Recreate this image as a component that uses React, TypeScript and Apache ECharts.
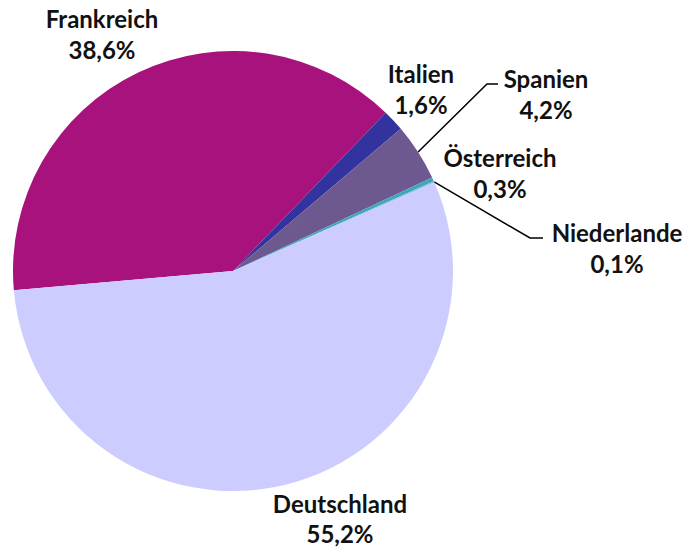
import React, { useEffect, useRef } from "react";
import * as echarts from "echarts";

const countries = ["Frankreich", "Italien", "Spanien", "Österreich", "Niederlande", "Deutschland"];
const shares = [38.6, 1.6, 4.2, 0.3, 0.1, 55.2];
const colors = ["#A8127C", "#3333A0", "#6E5890", "#40A6B8", "#88BDE8", "#CCCCFF"];

// label layout: block centre and optional leader-line bend/end points
const labelPos: Record<string, { x: number; y: number; line?: number[][] }> = {
  Frankreich: { x: 102, y: 34 },
  Italien: { x: 421, y: 89 },
  Spanien: { x: 546, y: 94, line: [[487, 84], [498, 84]] },
  "Österreich": { x: 500, y: 173 },
  Niederlande: { x: 617, y: 248, line: [[530, 238], [543, 238]] },
  Deutschland: { x: 340, y: 518 },
};

export default function App() {
  const ref = useRef<HTMLDivElement>(null);
  useEffect(() => {
    if (!ref.current) return;
    const chart = echarts.init(ref.current, null, { renderer: "svg" });
    const data = countries.map((name, i) => {
      const hasLine = !!labelPos[name].line;
      return {
        name,
        value: shares[i],
        itemStyle: { color: colors[i] },
        label: name === "Deutschland" ? { lineHeight: 30 } : undefined,
        labelLine: {
          show: hasLine,
          lineStyle: { color: "#000", width: 1.5 },
        },
      };
    });
    chart.setOption({
      animation: false,
      backgroundColor: "#fff",
      series: [
        {
          type: "pie",
          center: [233, 271],
          radius: 220,
          startAngle: 185,
          clockwise: true,
          avoidLabelOverlap: false,
          itemStyle: { borderWidth: 0 },
          emphasis: { disabled: true },
          label: {
            show: true,
            position: "outside",
            fontFamily: "Lato",
            fontWeight: "bold",
            fontSize: 24,
            lineHeight: 31,
            color: "#111",
            align: "center",
            formatter: (p: any) =>
              p.name + "\n" + Number(p.value).toFixed(1).replace(".", ",") + "%",
          },
          labelLine: { length: 20, length2: 10 },
          labelLayout: (params: any) => {
            const name = countries[params.dataIndex];
            const cfg = labelPos[name];
            const out: any = {
              x: cfg.x,
              y: cfg.y,
              align: "center",
              verticalAlign: "middle",
            };
            if (cfg.line && params.labelLinePoints) {
              const a = params.labelLinePoints[0];
              out.labelLinePoints = [[a[0], a[1]], cfg.line[0], cfg.line[1]];
            }
            return out;
          },
          data,
        },
      ],
    });
    return () => chart.dispose();
  }, []);
  return (
    <div
      ref={ref}
      style={{ position: "absolute", left: 0, top: 0, width: 689, height: 548 }}
    />
  );
}
